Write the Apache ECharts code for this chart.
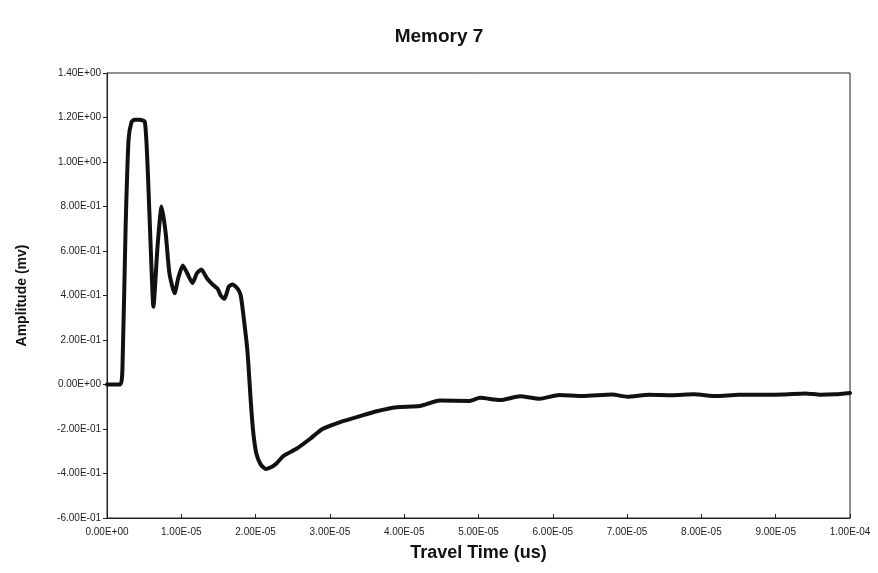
<!DOCTYPE html>
<html>
<head>
<meta charset="utf-8">
<title>Memory 7</title>
<script src="https://cdn.jsdelivr.net/npm/echarts@6/dist/echarts.min.js"></script>
<style>
  html, body { margin: 0; padding: 0; background: #ffffff; }
  #chart { width: 878px; height: 573px; }
</style>
</head>
<body>
<div id="chart"></div>
<script>
// Travel time (s) of each sample
const travelTime = [
  0, 1.8e-6, 2.1e-6, 2.5e-6, 2.9e-6, 3.3e-6, 3.7e-6, 4.4e-6, 5.1e-6, 5.5e-6,
  5.9e-6, 6.25e-6, 6.8e-6, 7.35e-6, 7.9e-6, 8.4e-6, 9.1e-6, 9.6e-6, 1.02e-5, 1.08e-5,
  1.15e-5, 1.21e-5, 1.27e-5, 1.34e-5, 1.42e-5, 1.49e-5, 1.53e-5, 1.58e-5, 1.64e-5, 1.69e-5,
  1.76e-5, 1.80e-5, 1.84e-5, 1.89e-5, 1.94e-5, 1.97e-5, 2.01e-5, 2.07e-5, 2.14e-5, 2.22e-5,
  2.28e-5, 2.38e-5, 2.55e-5, 2.73e-5, 2.90e-5, 3.13e-5, 3.36e-5, 3.63e-5, 3.90e-5, 4.21e-5,
  4.48e-5, 4.88e-5, 5.02e-5, 5.29e-5, 5.56e-5, 5.82e-5, 6.09e-5, 6.4e-5, 6.8e-5, 7.0e-5,
  7.3e-5, 7.6e-5, 7.9e-5, 8.2e-5, 8.5e-5, 8.8e-5, 9.1e-5, 9.4e-5, 9.6e-5, 9.8e-5,
  1.0e-4
];

// Measured amplitude (mv) of each sample
const amplitude = [
  0, 0, 0.1, 0.7, 1.10, 1.18, 1.19, 1.19, 1.18, 0.95,
  0.6, 0.35, 0.62, 0.80, 0.68, 0.50, 0.41, 0.48, 0.535, 0.50,
  0.456, 0.50, 0.517, 0.48, 0.45, 0.43, 0.40, 0.385, 0.44, 0.45,
  0.43, 0.40, 0.30, 0.15, -0.10, -0.22, -0.31, -0.36, -0.38, -0.37,
  -0.355, -0.32, -0.289, -0.245, -0.20, -0.17, -0.147, -0.12, -0.102, -0.097,
  -0.072, -0.074, -0.06, -0.07, -0.053, -0.064, -0.047, -0.052, -0.045, -0.055,
  -0.046, -0.048, -0.044, -0.052, -0.046, -0.046, -0.045, -0.040, -0.046, -0.044,
  -0.038
];

const yTickLabels = ['-6.00E-01', '-4.00E-01', '-2.00E-01', '0.00E+00', '2.00E-01', '4.00E-01',
  '6.00E-01', '8.00E-01', '1.00E+00', '1.20E+00', '1.40E+00'];
const xTickLabels = ['0.00E+00', '1.00E-05', '2.00E-05', '3.00E-05', '4.00E-05', '5.00E-05',
  '6.00E-05', '7.00E-05', '8.00E-05', '9.00E-05', '1.00E-04'];

const Y_MIN = -0.6, Y_MAX = 1.4, Y_STEP = 0.2;
const X_MIN = 0, X_MAX = 1e-4, X_STEP = 1e-5;

const points = travelTime.map((t, i) => [t, amplitude[i]]);

const FONT = '"Liberation Sans", Arial, sans-serif';

const chart = echarts.init(document.getElementById('chart'), null, { renderer: 'canvas' });
chart.setOption({
  backgroundColor: '#ffffff',
  animation: false,
  title: {
    text: 'Memory 7',
    left: 'center',
    top: 22,
    textStyle: { fontFamily: FONT, fontSize: 19, fontWeight: 'bold', color: '#111' }
  },
  grid: {
    left: 107, right: 28, top: 73, bottom: 55,
    show: true, borderColor: '#222', borderWidth: 1, backgroundColor: 'transparent'
  },
  xAxis: {
    type: 'value',
    min: X_MIN, max: X_MAX, interval: X_STEP,
    name: 'Travel Time (us)',
    nameLocation: 'middle',
    nameGap: 26,
    nameTextStyle: { fontFamily: FONT, fontSize: 18, fontWeight: 'bold', color: '#111' },
    axisLine: { show: true, onZero: false, lineStyle: { color: '#222', width: 1 } },
    axisTick: { show: true, inside: true, length: 4, lineStyle: { color: '#222' } },
    splitLine: { show: false },
    axisLabel: {
      margin: 9,
      fontFamily: FONT, fontSize: 10, color: '#222',
      formatter: v => xTickLabels[Math.round((v - X_MIN) / X_STEP)] || ''
    }
  },
  yAxis: {
    type: 'value',
    min: Y_MIN, max: Y_MAX, interval: Y_STEP,
    name: 'Amplitude (mv)',
    nameLocation: 'middle',
    nameGap: 78,
    nameTextStyle: { fontFamily: FONT, fontSize: 14, fontWeight: 'bold', color: '#111' },
    axisLine: { show: true, onZero: false, lineStyle: { color: '#222', width: 1 } },
    axisTick: { show: true, inside: false, length: 4, lineStyle: { color: '#222' } },
    splitLine: { show: false },
    axisLabel: {
      margin: 6,
      fontFamily: FONT, fontSize: 10, color: '#222',
      formatter: v => yTickLabels[Math.round((v - Y_MIN) / Y_STEP)] || ''
    }
  },
  series: [{
    type: 'line',
    data: points,
    showSymbol: false,
    smooth: 0.2,
    lineStyle: { color: '#111', width: 4, cap: 'round', join: 'round' }
  }]
});
</script>
</body>
</html>
